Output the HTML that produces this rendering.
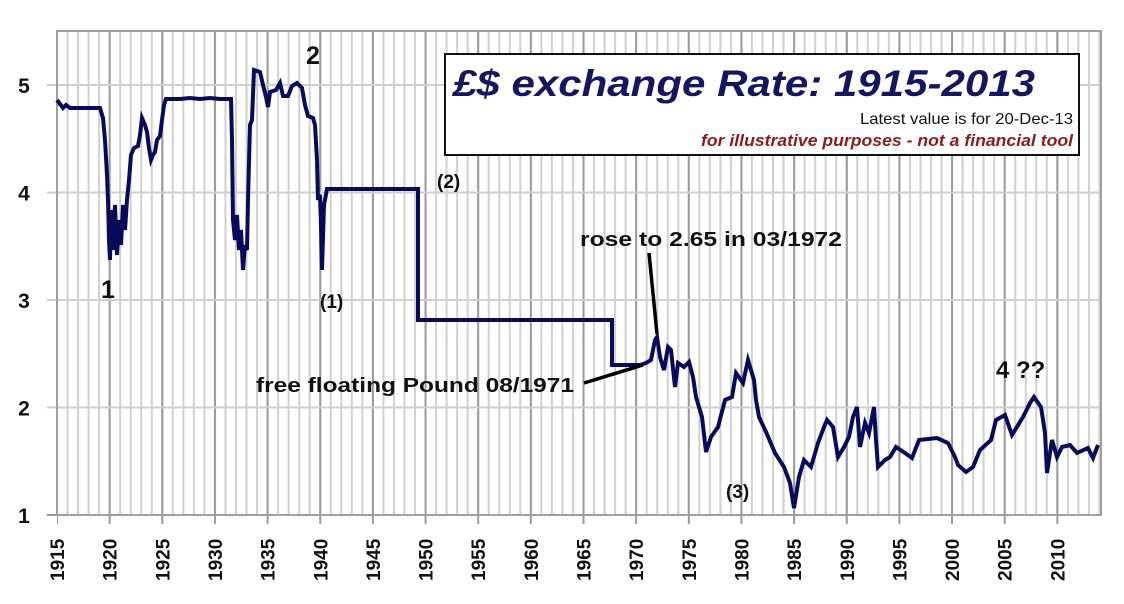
<!DOCTYPE html>
<html><head><meta charset="utf-8"><style>
html,body{margin:0;padding:0;background:#fff;}
svg{display:block;}
</style></head><body>
<svg width="1124" height="604" viewBox="0 0 1124 604" xmlns="http://www.w3.org/2000/svg">
<defs>
<pattern id="minor" patternUnits="userSpaceOnUse" x="56" y="0" width="10.53" height="10">
<rect x="0" y="0" width="2" height="10" fill="#d0d0d0"/>
</pattern>
<pattern id="major" patternUnits="userSpaceOnUse" x="56" y="0" width="52.65" height="10">
<rect x="0" y="0" width="2" height="10" fill="#9a9a9a"/>
</pattern>
</defs>
<rect width="1124" height="604" fill="#fff"/>
<rect x="57" y="31" width="1044" height="484" fill="url(#minor)"/>
<rect x="57" y="31" width="1044" height="493" fill="url(#major)"/>
<g stroke="#cfcfcf" stroke-width="2">
<line x1="47" y1="85" x2="1101" y2="85"/>
<line x1="47" y1="192.5" x2="1101" y2="192.5"/>
<line x1="47" y1="300" x2="1101" y2="300"/>
<line x1="47" y1="407.5" x2="1101" y2="407.5"/>
</g>
<line x1="47" y1="515" x2="1101" y2="515" stroke="#9a9a9a" stroke-width="2"/>
<rect x="57" y="31" width="1044" height="484" fill="none" stroke="#a0a0a0" stroke-width="2"/>
<g font-family="Liberation Sans, sans-serif" font-weight="bold" font-size="21" fill="#111" text-anchor="middle">
<text x="24" y="93">5</text>
<text x="24" y="200.5">4</text>
<text x="24" y="308">3</text>
<text x="24" y="415.5">2</text>
<text x="24" y="523">1</text>
</g>
<g font-family="Liberation Sans, sans-serif" font-weight="bold" font-size="19" fill="#111">
<text transform="translate(64,581) rotate(-90)">1915</text>
<text transform="translate(116.7,581) rotate(-90)">1920</text>
<text transform="translate(169.3,581) rotate(-90)">1925</text>
<text transform="translate(222,581) rotate(-90)">1930</text>
<text transform="translate(274.6,581) rotate(-90)">1935</text>
<text transform="translate(327.3,581) rotate(-90)">1940</text>
<text transform="translate(379.9,581) rotate(-90)">1945</text>
<text transform="translate(432.6,581) rotate(-90)">1950</text>
<text transform="translate(485.2,581) rotate(-90)">1955</text>
<text transform="translate(537.9,581) rotate(-90)">1960</text>
<text transform="translate(590.5,581) rotate(-90)">1965</text>
<text transform="translate(643.2,581) rotate(-90)">1970</text>
<text transform="translate(695.8,581) rotate(-90)">1975</text>
<text transform="translate(748.5,581) rotate(-90)">1980</text>
<text transform="translate(801.1,581) rotate(-90)">1985</text>
<text transform="translate(853.8,581) rotate(-90)">1990</text>
<text transform="translate(906.4,581) rotate(-90)">1995</text>
<text transform="translate(959.1,581) rotate(-90)">2000</text>
<text transform="translate(1011.7,581) rotate(-90)">2005</text>
<text transform="translate(1064.4,581) rotate(-90)">2010</text>
</g>
<polyline fill="none" stroke="#0a0a5c" stroke-width="4" stroke-linejoin="miter" points="57,100 60,104 63,108 66,105 70,108 100,108 103,118 105,140 107,175 108,200 109,240 110,260 111,210 113,250 115,205 117,255 119,220 121,245 123,205 125,230 127,200 129,180 131,155 134,148 138,146 140,135 142,118 145,125 147,132 149,148 151,160 153,155 155,152 157,140 160,136 162,120 164,105 166,99 180,99 190,98 200,99 210,98 220,99 231,99 232,140 233,220 235,240 237,215 239,250 241,230 243,270 245,245 247,250 248,200 250,125 252,120 254,70 260,72 263,85 266,97 268,107 270,92 276,90 280,83 283,96 288,96 292,86 297,83 302,88 305,105 308,116 313,118 315,125 317,160 318,200 320,195 321,225 322,270 324,205 327,189 418,189 418,320 612,320 612,365 640,365 646,363 651,360 655,340 657,337 660,357 664,370 668,347 671,350 675,387 678,363 684,367 689,362 693,377 696,397 702,417 706,452 711,437 718,427 725,400 732,397 736,373 743,383 748,360 754,380 756,400 759,417 766,432 775,453 784,467 790,483 794,508 799,477 804,460 811,467 818,443 824,427 827,420 833,427 838,457 844,447 849,437 853,417 857,407 860,447 865,423 869,433 874,407 876,440 878,467 885,460 890,457 896,447 905,453 912,458 919,440 937,438 948,443 955,457 958,465 966,472 973,467 980,450 991,440 996,420 1005,415 1012,435 1023,417 1030,403 1034,397 1041,407 1045,433 1047,473 1052,440 1057,457 1062,447 1070,445 1077,453 1088,448 1093,458 1098,445"/>
<rect x="445" y="54" width="634" height="101" fill="#fff" stroke="#111" stroke-width="2"/>
<text x="453" y="96" font-family="Liberation Sans, sans-serif" font-weight="bold" font-style="italic" font-size="37" fill="#151560" textLength="582" lengthAdjust="spacingAndGlyphs">£$ exchange Rate: 1915-2013</text>
<text x="1073" y="124" text-anchor="end" font-family="Liberation Sans, sans-serif" font-size="16" fill="#111" textLength="213" lengthAdjust="spacingAndGlyphs">Latest value is for 20-Dec-13</text>
<text x="1073" y="146" text-anchor="end" font-family="Liberation Sans, sans-serif" font-weight="bold" font-style="italic" font-size="17" fill="#8b1c1c" textLength="372" lengthAdjust="spacingAndGlyphs">for illustrative purposes - not a financial tool</text>
<g font-family="Liberation Sans, sans-serif" font-weight="bold" fill="#111">
<text x="306" y="64" font-size="25">2</text>
<text x="101" y="298" font-size="25">1</text>
<text x="320" y="308" font-size="19">(1)</text>
<text x="437" y="188" font-size="19">(2)</text>
<text x="726" y="498" font-size="19">(3)</text>
<text x="996" y="378" font-size="24">4 ??</text>
<text x="580" y="246" font-size="20" textLength="262" lengthAdjust="spacingAndGlyphs">rose to 2.65 in 03/1972</text>
<text x="256" y="392" font-size="20" textLength="318" lengthAdjust="spacingAndGlyphs">free floating Pound 08/1971</text>
</g>
<line x1="649" y1="253" x2="657" y2="334" stroke="#000" stroke-width="3.5"/>
<line x1="584" y1="383" x2="643" y2="365" stroke="#000" stroke-width="3.5"/>
</svg>
</body></html>
